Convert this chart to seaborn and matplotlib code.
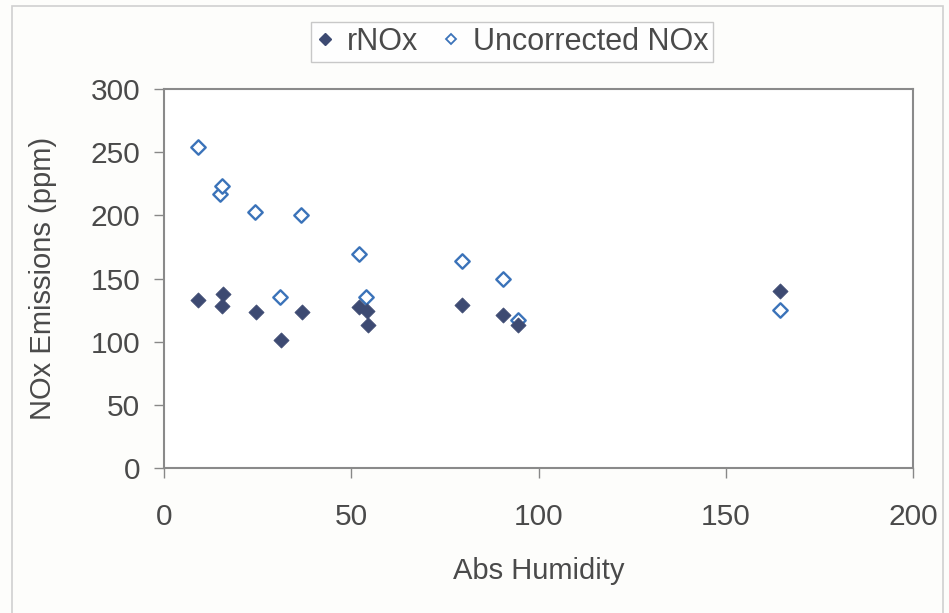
import pandas as pd
import seaborn as sns
from matplotlib import pyplot as plt
from matplotlib.lines import Line2D
from matplotlib.patches import Rectangle

sns.set_theme(style='white')
plt.rcParams['font.family'] = ['Liberation Sans', 'DejaVu Sans']

# rNOx (corrected) points
r_hum = [9.2, 15.4, 15.8, 24.6, 31.2, 36.8, 52.2, 54.1, 54.4, 79.7, 90.6, 94.6, 164.6]
r_nox = [133, 128, 137.5, 123.5, 101, 123.5, 127.5, 124, 113, 129, 121.5, 113.5, 140]

# uncorrected NOx points
u_hum = [9.1, 15.0, 15.4, 24.4, 31.0, 36.6, 52.1, 53.9, 79.7, 90.6, 94.6, 164.6]
u_nox = [254, 217, 223.5, 202.5, 135, 200, 169, 135, 164, 150, 117.5, 125]

df_r = pd.DataFrame({'hum': r_hum, 'nox': r_nox})
df_u = pd.DataFrame({'hum': u_hum, 'nox': u_nox})

dark = '#3d4a72'
blue = '#3b73b9'
txt = '#4a4a4a'

fig = plt.figure(figsize = (9.49, 6.13), dpi = 100)
fig.patch.set_facecolor('#fdfdfb')
fig.patches.append(Rectangle((12/949, -0.01), 931/949, 1 - 6/613 + 0.01, transform = fig.transFigure,
                             facecolor = 'none', edgecolor = '#d0d0d0', linewidth = 1.2))
ax = fig.add_axes([164/949, 1 - 468/613, (913 - 164)/949, (468 - 89)/613])
ax.set_facecolor('white')

sns.scatterplot(data = df_u, x = 'hum', y = 'nox', ax = ax, marker = 'D', s = 54,
                facecolor = 'white', edgecolor = blue, linewidth = 1.7, zorder = 3)
sns.scatterplot(data = df_r, x = 'hum', y = 'nox', ax = ax, marker = 'D', s = 60,
                facecolor = dark, edgecolor = dark, linewidth = 0.5, zorder = 4)

ax.set_xlim(0, 200)
ax.set_ylim(0, 300)
ax.set_xticks([0, 50, 100, 150, 200])
ax.set_yticks([0, 50, 100, 150, 200, 250, 300])
ax.tick_params(axis = 'both', labelsize = 21.5, colors = txt, direction = 'out', length = 7, width = 1, color = '#888888')
ax.tick_params(axis = 'x', pad = 18)
ax.tick_params(axis = 'y', pad = 10)
ax.tick_params(left = True, bottom = True)
for sp in ax.spines.values():
	sp.set_color('#8a8a8a')
	sp.set_linewidth(1.5)

ax.set_xlabel('Abs Humidity', fontsize = 21, color = txt, labelpad = 19)
ax.set_ylabel('NOx Emissions (ppm)', fontsize = 21, color = txt, labelpad = 24)

handles = [Line2D([], [], linestyle = 'none', marker = 'D', markersize = 6, markerfacecolor = dark, markeredgecolor = dark),
           Line2D([], [], linestyle = 'none', marker = 'D', markersize = 5.5, markerfacecolor = 'white', markeredgecolor = blue, markeredgewidth = 1.3)]
leg = fig.legend(handles, ['rNOx', 'Uncorrected NOx'], loc = 'center', bbox_to_anchor = (512/949, 1 - 42/613),
                 ncol = 2, fontsize = 22, frameon = True, fancybox = False, handlelength = 0.6, handletextpad = 0.4,
                 columnspacing = 0.8, borderpad = 0.15, labelcolor = txt)
leg.get_frame().set_edgecolor('#bbbbbb')
leg.get_frame().set_linewidth(1)
leg.get_frame().set_facecolor('white')

plt.savefig('out.png', dpi = 100)
